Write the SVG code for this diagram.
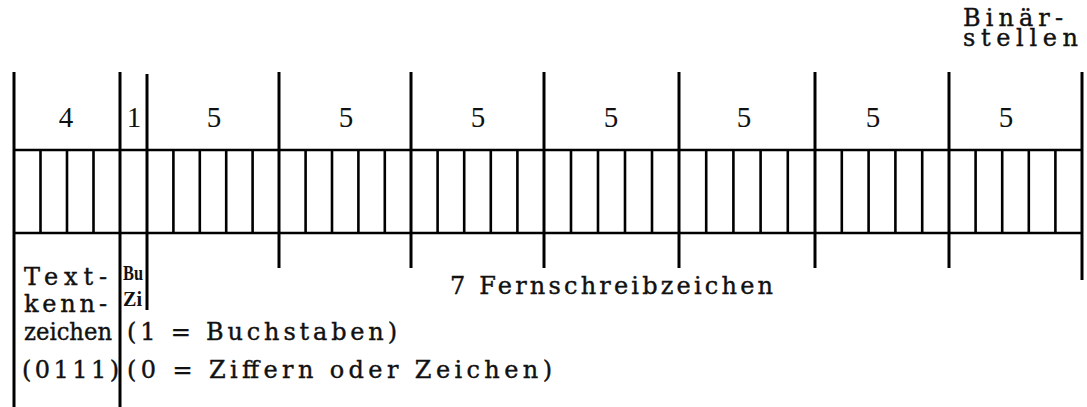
<svg xmlns="http://www.w3.org/2000/svg" width="1087" height="407" viewBox="0 0 1087 407">
<style>
.maj{stroke:#000;stroke-width:3;fill:none}
.min{stroke:#000;stroke-width:2.6;fill:none}
.hor{stroke:#000;stroke-width:2.6;fill:none}
.num{font-family:"Liberation Serif",serif;font-size:29px;fill:#111;text-anchor:middle}
.tw{font-family:"DejaVu Serif","Liberation Serif",serif;font-size:24px;fill:#111;stroke:#111;stroke-width:0.4}
.bz{font-family:"Liberation Serif",serif;font-weight:bold;font-size:22px;fill:#111}
</style>
<rect x="0" y="0" width="1087" height="407" fill="#fff"/>
<g id="connectors">
  <g id="major-lines">
    <line class="maj" x1="14" y1="72" x2="14" y2="407"/>
    <line class="maj" x1="120" y1="72" x2="120" y2="407"/>
    <line class="maj" x1="147" y1="74" x2="147" y2="310"/>
    <line class="maj" x1="279" y1="72" x2="279" y2="268"/>
    <line class="maj" x1="411" y1="72" x2="411" y2="268"/>
    <line class="maj" x1="544" y1="72" x2="544" y2="268"/>
    <line class="maj" x1="679" y1="72" x2="679" y2="268"/>
    <line class="maj" x1="815" y1="72" x2="815" y2="268"/>
    <line class="maj" x1="949" y1="72" x2="949" y2="268"/>
    <line class="maj" x1="1082" y1="72" x2="1082" y2="280"/>
  </g>
  <g id="grid-horizontal">
    <line class="hor" x1="14" y1="150" x2="1082" y2="150"/>
    <line class="hor" x1="14" y1="233" x2="1082" y2="233"/>
  </g>
  <g id="minor-lines">
    <path class="min" d="M40.5 150V233M67 150V233M93.5 150V233
      M173.4 150V233M199.8 150V233M226.2 150V233M252.6 150V233
      M305.6 150V233M332 150V233M358.4 150V233M384.8 150V233
      M437.6 150V233M464.2 150V233M490.8 150V233M517.4 150V233
      M571 150V233M598 150V233M625 150V233M652 150V233
      M706.2 150V233M733.4 150V233M760.6 150V233M787.8 150V233
      M841.8 150V233M868.6 150V233M895.4 150V233M922.2 150V233
      M975.6 150V233M1002.2 150V233M1028.8 150V233M1055.4 150V233"/>
  </g>
</g>
<g id="field-counts">
  <text class="num" x="66" y="127">4</text>
  <text class="num" x="134" y="127">1</text>
  <text class="num" x="214" y="127">5</text>
  <text class="num" x="346" y="127">5</text>
  <text class="num" x="478" y="127">5</text>
  <text class="num" x="611" y="127">5</text>
  <text class="num" x="744" y="127">5</text>
  <text class="num" x="873" y="127">5</text>
  <text class="num" x="1006" y="127">5</text>
</g>
<g id="label-binaerstellen">
  <text class="tw" font-size="18"><tspan x="963" y="26" textLength="100" lengthAdjust="spacing">Binär-</tspan><tspan x="963" y="46" textLength="115" lengthAdjust="spacing">stellen</tspan></text>
</g>
<g id="label-textkennzeichen">
  <text class="tw" x="24" y="285" font-size="22" textLength="83" lengthAdjust="spacing">Text-</text>
  <text class="tw" x="24" y="312" font-size="22" textLength="83" lengthAdjust="spacing">kenn-</text>
  <text class="tw" x="24" y="340" font-size="22" textLength="88" lengthAdjust="spacingAndGlyphs">zeichen</text>
  <text class="tw" x="22" y="378" textLength="97" lengthAdjust="spacing">(0111)</text>
</g>
<g id="label-buzi">
  <text class="bz" x="123" y="280" textLength="20" lengthAdjust="spacingAndGlyphs">Bu</text>
  <text class="bz" x="123" y="306" textLength="19" lengthAdjust="spacingAndGlyphs">Zi</text>
  <text class="tw" x="127" y="340" textLength="270" lengthAdjust="spacing">(1 = Buchstaben)</text>
  <text class="tw" x="127" y="378" textLength="425" lengthAdjust="spacing">(0 = Ziffern oder Zeichen)</text>
</g>
<g id="label-fernschreibzeichen">
  <text class="tw" x="450" y="294" textLength="323" lengthAdjust="spacing">7 Fernschreibzeichen</text>
</g>
</svg>
